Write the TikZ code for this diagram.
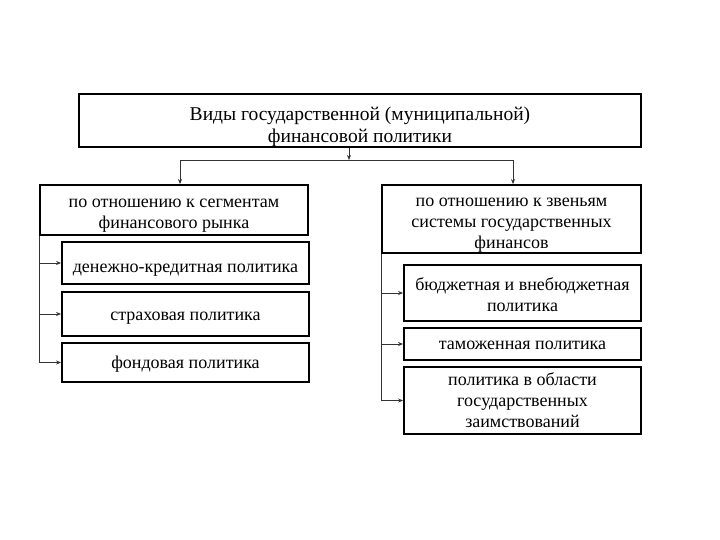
\documentclass[tikz,border=0pt]{standalone}
\usepackage{fontspec}
\setmainfont{Liberation Serif}
\usetikzlibrary{arrows.meta,positioning}

% first line height, last line depth (moves the text inside its box)
\newcommand{\fhgt}[1]{\rule{0pt}{#1pt}}
\newcommand{\ldep}[1]{\rule[-#1pt]{0pt}{#1pt}}

\tikzset{
  box/.style={draw=black, line width=1.8pt, align=center, inner xsep=1pt, inner ysep=0pt,
              font=\fontsize{18}{21}\selectfont},
  arr/.style={-{Stealth[length=5pt,width=4pt]}, line width=0.7pt, gray!40!black}
}

\begin{document}
\begin{tikzpicture}[x=1pt, y=-1pt]
  \useasboundingbox (0,0) rectangle (720,540);
  % top
  \node[box, font=\fontsize{19.5}{21.5}\selectfont,
        minimum width=562, minimum height=53] (top) at (360,120.5)
    {\fhgt{26.8}Виды государственной (муниципальной)\\финансовой политики\ldep{4.3}};
  % two groups
  \node[box, minimum width=268, minimum height=50] (lpar) at (174,210)
    {\fhgt{22}по отношению к сегментам\\финансового рынка\ldep{5}};
  \node[box, minimum width=259, minimum height=68] (rpar) at (511.5,219)
    {\fhgt{21}по отношению к звеньям\\системы государственных\\финансов\ldep{5}};
  % left items
  \node[box, minimum width=247, minimum height=42] (l1) at (185.5,263)
    {\fhgt{23}денежно-кредитная политика\ldep{5}};
  \node[box, minimum width=247, minimum height=44] (l2) at (185.5,314)
    {\fhgt{17}страховая политика\ldep{5}};
  \node[box, minimum width=247, minimum height=39] (l3) at (185.5,362.5)
    {\fhgt{16.6}фондовая политика\ldep{5}};
  % right items
  \node[box, minimum width=237, minimum height=56] (r1) at (522.5,293)
    {\fhgt{20}бюджетная и внебюджетная\\политика\ldep{5}};
  \node[box, minimum width=237, minimum height=32] (r2) at (522.5,344)
    {\fhgt{15.6}таможенная политика\ldep{5}};
  \node[box, minimum width=237, minimum height=67] (r3) at (522.5,400.5)
    {\fhgt{16}политика в области\\государственных\\заимствований\ldep{5}};
  % connectors
  \coordinate (split) at (349,160);
  \draw[arr] (top.south -| split) -- (split);
  \draw[arr] (split) -| ([xshift=6]lpar.north);
  \draw[arr] (split) -| ([xshift=1.5]rpar.north);
  \foreach \n in {l1,l2,l3}
    \draw[arr] (lpar.south west) |- (\n.west);
  \foreach \n in {r1,r2,r3}
    \draw[arr] (rpar.south west) |- (\n.west);
\end{tikzpicture}
\end{document}
